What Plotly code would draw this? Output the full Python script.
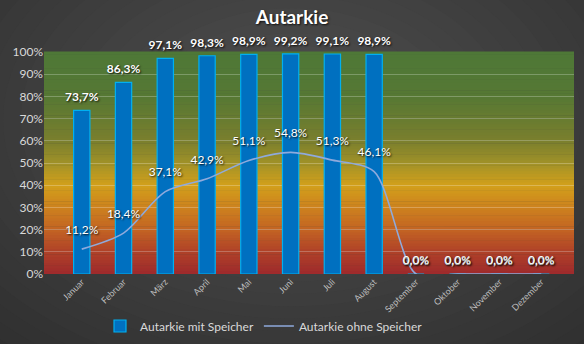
import plotly.graph_objects as go

months = ["Januar", "Februar", "März", "April", "Mai", "Juni", "Juli", "August",
          "September", "Oktober", "November", "Dezember"]
mit_speicher = [0.737, 0.863, 0.971, 0.983, 0.989, 0.992, 0.991, 0.989, 0.0, 0.0, 0.0, 0.0]
ohne_speicher = [0.112, 0.184, 0.371, 0.429, 0.511, 0.548, 0.513, 0.461, 0.0, 0.0, 0.0, 0.0]

W, H = 584, 344
L, R, T, B = 44, 10, 52, 70
PW, PH = W - L - R, H - T - B

def px_x(px):
    return (px - L) / PW

def px_y(py):
    return (H - B - py) / PH

shapes = []

def lerp(a, b, t):
    return tuple(int(round(a[i] + (b[i] - a[i]) * t)) for i in range(3))

# radial dark background
outer, inner = (42, 42, 42), (78, 78, 78)
N = 28
cx, cy = 292, 120
for i in range(N):
    t = i / (N - 1)
    rx = 520 * (1 - t) + 40 * t
    ry = 360 * (1 - t) + 25 * t
    c = lerp(outer, inner, t)
    shapes.append(dict(type="circle", xref="paper", yref="paper", layer="below",
                       x0=px_x(cx - rx), x1=px_x(cx + rx), y0=px_y(cy + ry), y1=px_y(cy - ry),
                       fillcolor="rgb(%d,%d,%d)" % c, line=dict(width=0)))

# plot-area vertical gradient
stops = [(0.0, (158, 42, 44)), (0.1, (175, 65, 40)), (0.2, (195, 100, 35)), (0.3, (205, 130, 30)),
         (0.4, (210, 160, 27)), (0.5, (160, 145, 40)), (0.6, (122, 127, 45)), (0.8, (86, 120, 52)),
         (1.0, (78, 120, 55))]

def grad(v):
    for j in range(len(stops) - 1):
        a, b = stops[j], stops[j + 1]
        if a[0] <= v <= b[0]:
            return lerp(a[1], b[1], (v - a[0]) / (b[0] - a[0]))
    return stops[-1][1]

M = 80
for i in range(M):
    y0, y1 = i / M, (i + 1) / M
    c = grad((y0 + y1) / 2)
    shapes.append(dict(type="rect", xref="x domain", yref="y domain", layer="below",
                       x0=0, x1=1, y0=y0, y1=y1 + 0.002,
                       fillcolor="rgb(%d,%d,%d)" % c, line=dict(width=0)))

fig = go.Figure()
fig.add_trace(go.Bar(x=months, y=mit_speicher, name="Autarkie mit Speicher",
                     marker=dict(color="#0070C0", line=dict(color="#00B0F0", width=1.2)),
                     width=0.39))
fig.add_trace(go.Scatter(x=months, y=ohne_speicher, name="Autarkie ohne Speicher", mode="lines",
                         line=dict(color="#8FAADC", width=1.6, shape="spline", smoothing=0.8)))

shadow = "1px 1px 2px rgba(0,0,0,0.9)"
fmt = lambda vals: [f"{v*100:.1f}%".replace(".", ",") for v in vals]
fig.add_trace(go.Scatter(x=months, y=mit_speicher, mode="text+markers", showlegend=False,
                         text=fmt(mit_speicher), hoverinfo="skip",
                         marker=dict(size=8, color="rgba(0,0,0,0)", opacity=0, line=dict(width=0)),
                         textposition="top center", cliponaxis=False,
                         textfont=dict(family="Lato", size=12, color="white", weight="bold", shadow=shadow)))
fig.add_trace(go.Scatter(x=months, y=ohne_speicher, mode="text+markers", showlegend=False,
                         text=fmt(ohne_speicher), hoverinfo="skip",
                         marker=dict(size=[18] * 8 + [10] * 4, color="rgba(0,0,0,0)", opacity=0,
                                     line=dict(width=0)),
                         textposition="top center", cliponaxis=False,
                         textfont=dict(family="Lato", size=12, color="white", shadow=shadow)))

fig.update_layout(
    width=W, height=H,
    margin=dict(l=L, r=R, t=T, b=B, autoexpand=False),
    paper_bgcolor="rgb(42,42,42)",
    plot_bgcolor="rgba(0,0,0,0)",
    shapes=shapes,
    separators=",.",
    title=dict(text="<b>Autarkie</b>", x=0.5, xanchor="center", y=1 - 17 / H, yanchor="middle",
               font=dict(family="Lato", size=19, color="white", shadow="1px 1px 2px rgba(0,0,0,0.8)")),
    font=dict(family="Lato", color="#D9D9D9"),
    showlegend=True,
    legend=dict(orientation="h", x=px_x(100), xanchor="left", yref="container",
                y=1 - 326 / H, yanchor="middle",
                font=dict(size=12, color="#D9D9D9"), bgcolor="rgba(0,0,0,0)",
                itemwidth=30, tracegroupgap=0),
)
fig.update_yaxes(range=[0, 1], dtick=0.1, tickformat=".0%", showgrid=True, automargin=False,
                 gridcolor="rgba(255,255,255,0.25)", gridwidth=1, zeroline=False,
                 tickfont=dict(size=12, color="#D9D9D9"), ticks="", fixedrange=True)
fig.update_xaxes(tickangle=-45, tickfont=dict(size=9, color="#BFBFBF"), showgrid=False,
                 automargin=False, showline=False, ticks="")

fig.write_html("out.html")
